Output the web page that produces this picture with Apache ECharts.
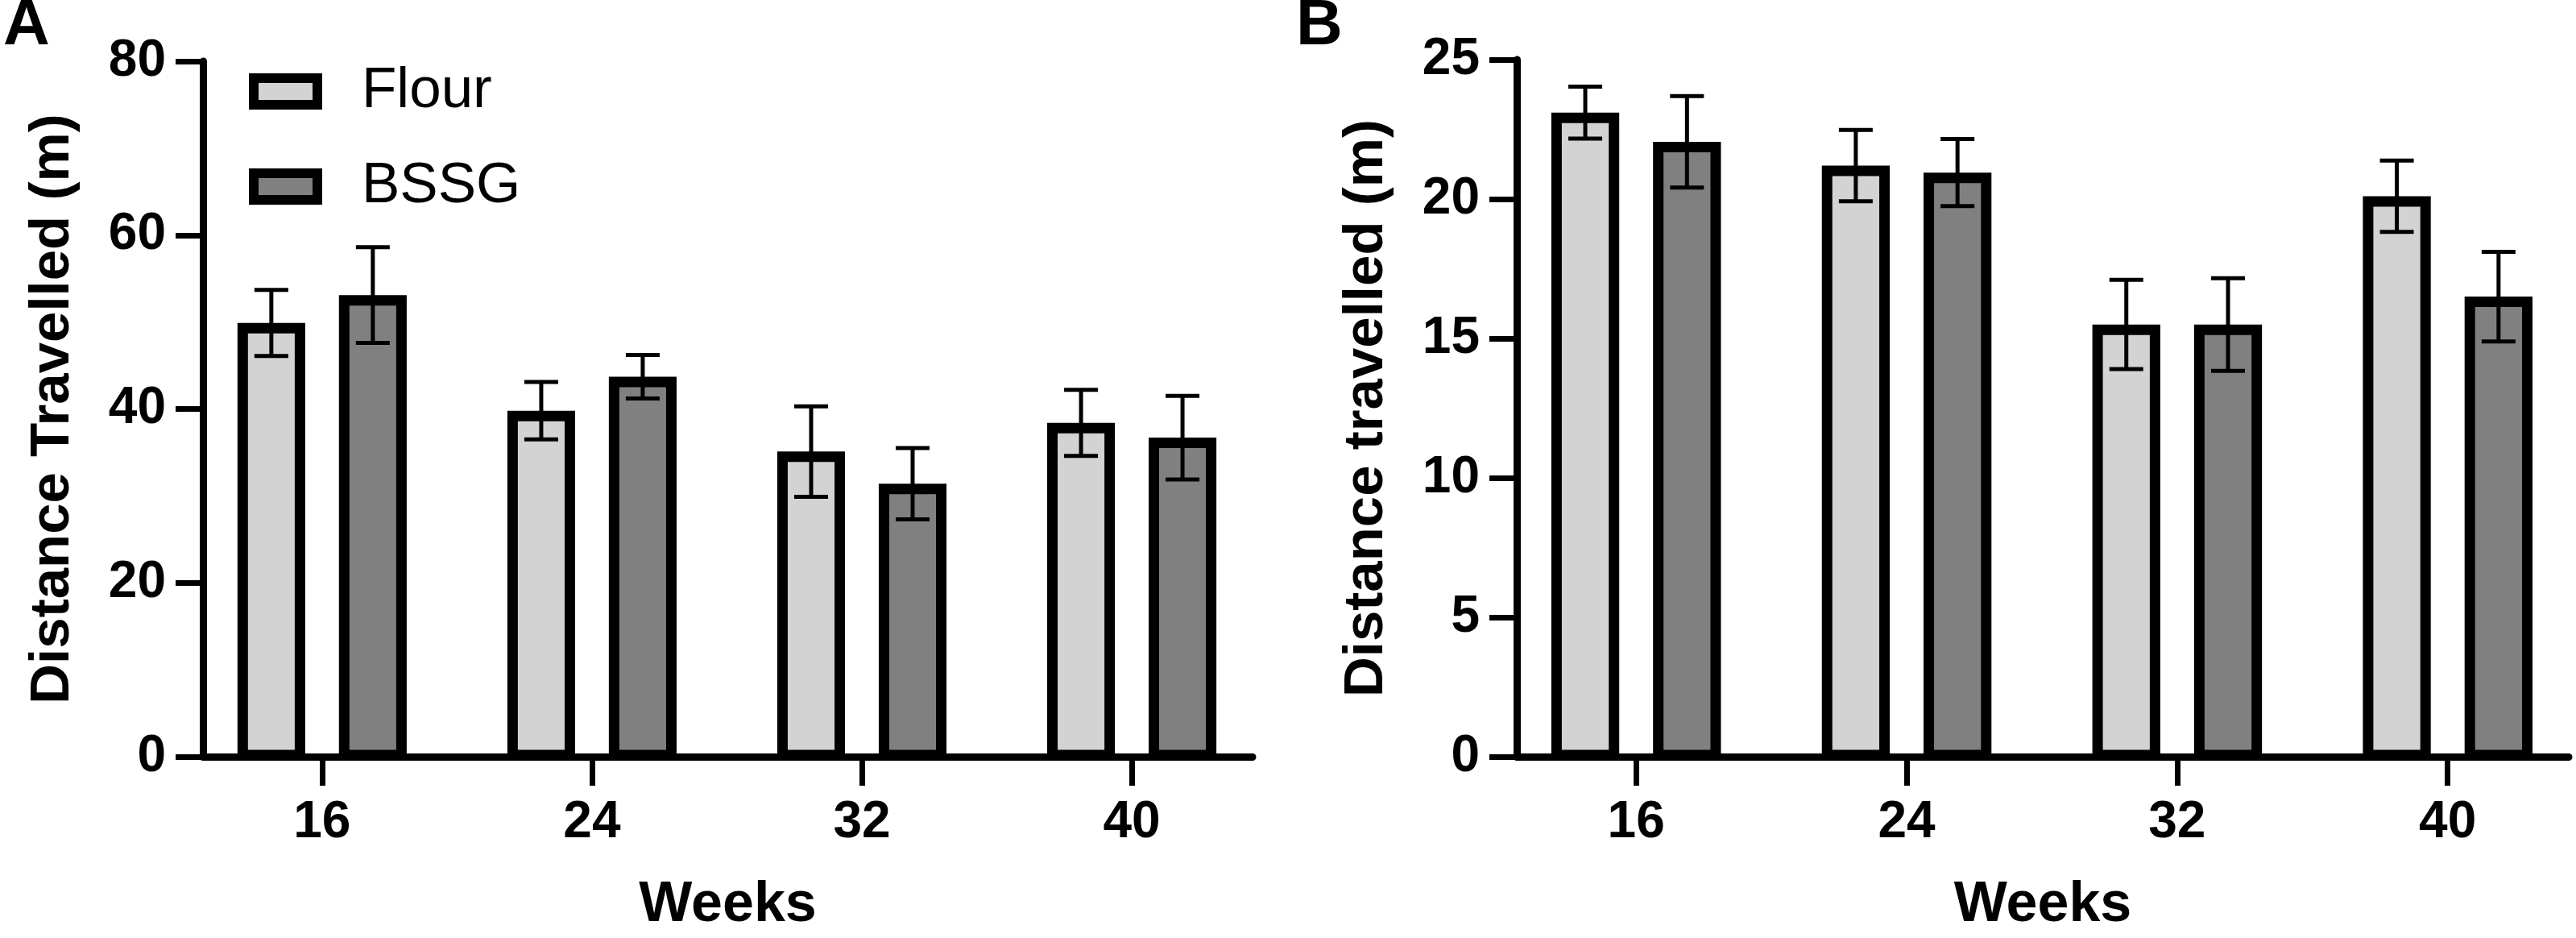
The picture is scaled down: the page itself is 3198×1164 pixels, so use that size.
<!DOCTYPE html>
<html>
<head>
<meta charset="utf-8">
<script src="https://cdn.jsdelivr.net/npm/echarts@6/dist/echarts.min.js"></script>
<style>
  html, body { margin: 0; padding: 0; background: #fff; }
  #main { width: 3198px; height: 1164px; }
</style>
</head>
<body>
<div id="main"></div>
<script>
// data (mean and SEM, metres)
const weeks = [16, 24, 32, 40];
const flourA = [49.9, 39.8, 35.1, 38.4];
const flourAErr = [3.8, 3.3, 5.2, 3.8];
const bssgA = [53.1, 43.7, 31.4, 36.7];
const bssgAErr = [5.5, 2.5, 4.1, 4.8];
const flourB = [23.1, 21.2, 15.5, 20.1];
const flourBErr = [0.93, 1.28, 1.6, 1.28];
const bssgB = [22.05, 20.95, 15.5, 16.5];
const bssgBErr = [1.64, 1.2, 1.66, 1.61];

const FONT = "'Liberation Sans', Arial, sans-serif";
const LIGHT = "#d3d3d3";
const DARK = "#808080";
const BORDER = 13;

const chart = echarts.init(document.getElementById("main"));

// bars drawn with border inside the value, plus error bar on top
function barItem(offset, color) {
  return function (params, api) {
    const x = api.value(0);
    const mean = api.value(1);
    const sem = api.value(2);
    const band = api.size([8, 0])[0];
    const cx = api.coord([x, 0])[0] + offset * band;
    const base = api.coord([x, 0])[1];
    const top = api.coord([x, mean])[1];
    const hi = api.coord([x, mean + sem])[1];
    const lo = api.coord([x, mean - sem])[1];
    const w = 0.251 * band;
    const cap = 21;
    return {
      type: "group",
      children: [
        {
          type: "rect",
          shape: { x: cx - w / 2 + BORDER / 2, y: top + BORDER / 2, width: w - BORDER, height: base - top - BORDER / 2 - 2 },
          style: { fill: color, stroke: "#000", lineWidth: BORDER }
        },
        { type: "line", shape: { x1: cx, y1: hi, x2: cx, y2: lo }, style: { stroke: "#000", lineWidth: 5 } },
        { type: "line", shape: { x1: cx - cap, y1: hi, x2: cx + cap, y2: hi }, style: { stroke: "#000", lineWidth: 5 } },
        { type: "line", shape: { x1: cx - cap, y1: lo, x2: cx + cap, y2: lo }, style: { stroke: "#000", lineWidth: 5 } }
      ]
    };
  };
}

function rows(means, errs) {
  return weeks.map((w, i) => [w, means[i], errs[i]]);
}

function xAxis(idx) {
  return {
    type: "value",
    gridIndex: idx,
    min: 12.47,
    max: 43.58,
    name: "Weeks",
    nameLocation: "middle",
    nameGap: 150,
    nameTextStyle: { fontFamily: FONT, fontWeight: "bold", fontSize: 70, color: "#000" },
    axisLine: { lineStyle: { color: "#000", width: 9 } },
    axisTick: { show: true, customValues: weeks, length: 36, lineStyle: { color: "#000", width: 7 } },
    axisLabel: { customValues: weeks, margin: 50, fontFamily: FONT, fontWeight: "bold", fontSize: 64, color: "#000" },
    splitLine: { show: false }
  };
}

function yAxis(idx, max, interval, name) {
  return {
    type: "value",
    gridIndex: idx,
    min: 0,
    max: max,
    interval: interval,
    name: name,
    nameLocation: "middle",
    nameGap: 152,
    nameTextStyle: { fontFamily: FONT, fontWeight: "bold", fontSize: 69, color: "#000" },
    axisLine: { show: true, lineStyle: { color: "#000", width: 9 } },
    axisTick: { show: true, length: 34, lineStyle: { color: "#000", width: 7 } },
    axisLabel: { margin: 46, fontFamily: FONT, fontWeight: "bold", fontSize: 64, color: "#000" },
    splitLine: { show: false }
  };
}

function series(name, idx, data, offset, color) {
  return {
    name: name,
    type: "custom",
    xAxisIndex: idx,
    yAxisIndex: idx,
    data: data,
    itemStyle: { color: color, borderColor: "#000", borderWidth: 12 },
    renderItem: barItem(offset, color)
  };
}

const option = {
  animation: false,
  backgroundColor: "#fff",
  title: [
    { text: "A", left: 4, top: -7, padding: 0, textStyle: { fontFamily: FONT, fontWeight: "bold", fontSize: 80, color: "#000" } },
    { text: "B", left: 1609, top: -7, padding: 0, textStyle: { fontFamily: FONT, fontWeight: "bold", fontSize: 80, color: "#000" } }
  ],
  legend: {
    orient: "vertical",
    left: 309,
    top: 78,
    padding: 0,
    itemWidth: 79,
    itemHeight: 33,
    itemGap: 47,
    textStyle: { fontFamily: FONT, fontSize: 71, color: "#000", lineHeight: 70, padding: [0, 0, 0, 50] },
    data: [
      { name: "Flour", icon: "rect", itemStyle: { color: LIGHT, borderColor: "#000", borderWidth: 12 } },
      { name: "BSSG", icon: "rect", itemStyle: { color: DARK, borderColor: "#000", borderWidth: 12 } }
    ]
  },
  grid: [
    { left: 252, right: 1643, top: 76, bottom: 224 },
    { left: 1883, right: 9, top: 74, bottom: 220 }
  ],
  xAxis: [xAxis(0), xAxis(1)],
  yAxis: [
    yAxis(0, 80, 20, "Distance Travelled (m)"),
    yAxis(1, 25, 5, "Distance travelled (m)")
  ],
  series: [
    series("Flour", 0, rows(flourA, flourAErr), -0.188, LIGHT),
    series("BSSG", 0, rows(bssgA, bssgAErr), 0.188, DARK),
    series("Flour", 1, rows(flourB, flourBErr), -0.188, LIGHT),
    series("BSSG", 1, rows(bssgB, bssgBErr), 0.188, DARK)
  ]
};

chart.setOption(option);
</script>
</body>
</html>
